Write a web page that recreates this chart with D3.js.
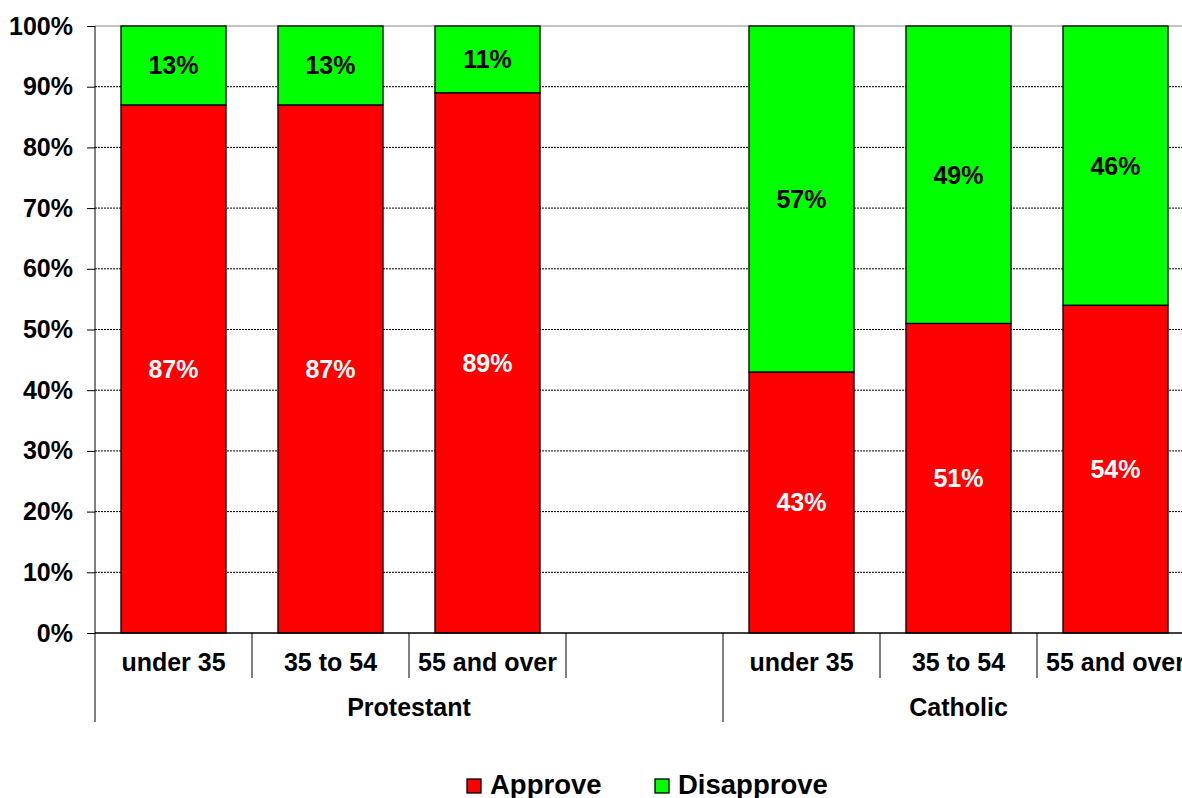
<!DOCTYPE html>
<html><head><meta charset="utf-8">
<script src="https://cdn.jsdelivr.net/npm/d3@7"></script>
<style>
html,body{margin:0;padding:0;background:#fff;}
svg{display:block;font-family:"Liberation Sans",Arial,sans-serif;font-weight:bold;}
</style></head>
<body><svg id="c" width="1182" height="798"></svg>
<script>
// ---- data ----
const slotGroups = ["Protestant","Protestant","Protestant","Protestant","Catholic","Catholic","Catholic"];
const categories = ["under 35","35 to 54","55 and over","","under 35","35 to 54","55 and over"];
const approve    = [87, 87, 89, null, 43, 51, 54];
const disapprove = [13, 13, 11, null, 57, 49, 46];
const groups = ["Protestant","Catholic"];
const seriesNames = ["Approve","Disapprove"];
const seriesColors = ["#ff0000","#00ff00"];
const yTicks = [0,10,20,30,40,50,60,70,80,90,100];

// ---- layout ----
const svg = d3.select("#c");
const x0 = 95, x1 = 1194, yBot = 633, yTop = 26;
const pad = 0.331;
const x = d3.scaleBand().domain(d3.range(categories.length)).range([x0, x1])
  .paddingInner(pad).paddingOuter(pad/2);
const step = x.step();
const y = d3.scaleLinear().domain([0,100]).range([yBot, yTop]);

// gridlines
svg.append("g").selectAll("line").data(yTicks.filter(d => d > 0)).join("line")
  .attr("x1", x0).attr("x2", 1182)
  .attr("y1", d => y(d)).attr("y2", d => y(d))
  .attr("stroke", d => d === 100 ? "#888" : "#000")
  .attr("stroke-width", 1)
  .attr("stroke-dasharray", d => d === 100 ? null : "2,1");

// stacked bars
const rows = categories.map((c,i) => ({i, a: approve[i], d: disapprove[i]})).filter(r => r.a != null);
const gBars = svg.append("g");
rows.forEach(r => {
  const segs = [
    {s:0, y0:0, y1:r.a, v:r.a},
    {s:1, y0:r.a, y1:r.a + r.d, v:r.d}
  ];
  segs.forEach(sg => {
    gBars.append("rect")
      .attr("x", x(r.i)).attr("width", x.bandwidth())
      .attr("y", y(sg.y1)).attr("height", y(sg.y0) - y(sg.y1))
      .attr("fill", seriesColors[sg.s]).attr("stroke", "#000").attr("stroke-width", 1.3);
    gBars.append("text")
      .attr("x", x(r.i) + x.bandwidth()/2)
      .attr("y", (y(sg.y0) + y(sg.y1))/2)
      .attr("dy", "0.36em")
      .attr("text-anchor", "middle")
      .attr("font-size", 25)
      .attr("fill", sg.s === 0 ? "#fff" : "#000")
      .text(sg.v + "%");
  });
});

// y axis
const yAxis = d3.axisLeft(y).tickValues(yTicks).tickSize(8).tickPadding(14).tickFormat(d => d + "%");
const gy = svg.append("g").attr("transform", `translate(${x0},0)`).call(yAxis);
gy.select(".domain").remove();
gy.selectAll(".tick line").attr("stroke", "#000");
gy.selectAll("text").attr("font-size", 25).attr("font-family", "Liberation Sans, Arial, sans-serif")
  .attr("font-weight", "bold").attr("fill", "#000");
svg.append("line").attr("x1", x0).attr("x2", x0).attr("y1", yTop).attr("y2", 722).attr("stroke", "#000");

// x axis baseline
svg.append("line").attr("x1", x0).attr("x2", 1182).attr("y1", yBot).attr("y2", yBot).attr("stroke", "#000").attr("stroke-width", 1.3);

// category labels
const xAxis = d3.axisBottom(x).tickSize(0).tickPadding(0).tickFormat(i => categories[i]);
const gx = svg.append("g").attr("transform", `translate(0,${yBot})`).call(xAxis);
gx.select(".domain").remove();
gx.selectAll("text").attr("font-size", 25).attr("font-family", "Liberation Sans, Arial, sans-serif")
  .attr("font-weight", "bold").attr("fill", "#000").attr("dy", null).attr("y", 38);

// separators
const groupStarts = categories.map((c,i) => i).filter(i => i === 0 || slotGroups[i] !== slotGroups[i-1]);
const bounds = d3.range(categories.length + 1).map(i => x0 + i * step).filter(b => b <= 1182);
svg.append("g").selectAll("line").data(bounds.slice(1)).join("line")
  .attr("x1", d => d).attr("x2", d => d)
  .attr("y1", yBot).attr("y2", d => groupStarts.some(i => Math.abs(x0 + i*step - d) < 1) ? 722 : 678)
  .attr("stroke", "#000").attr("stroke-width", 1);

// group labels
groups.forEach(g => {
  const idx = slotGroups.map((s,i) => s === g ? i : -1).filter(i => i >= 0);
  const start = x0 + d3.min(idx) * step, end = x0 + (d3.max(idx) + 1) * step;
  svg.append("text").attr("x", (start + end)/2).attr("y", 716)
    .attr("text-anchor", "middle").attr("font-size", 25).attr("fill", "#000").text(g);
});

// legend
const legX = [467, 655];
seriesNames.forEach((n, i) => {
  svg.append("rect").attr("x", legX[i]).attr("y", 779).attr("width", 14).attr("height", 14)
    .attr("fill", seriesColors[i]).attr("stroke", "#000").attr("stroke-width", 1.3);
  svg.append("text").attr("x", legX[i] + 23).attr("y", 794).attr("font-size", 27.5).attr("fill", "#000").text(n);
});
</script></body></html>
